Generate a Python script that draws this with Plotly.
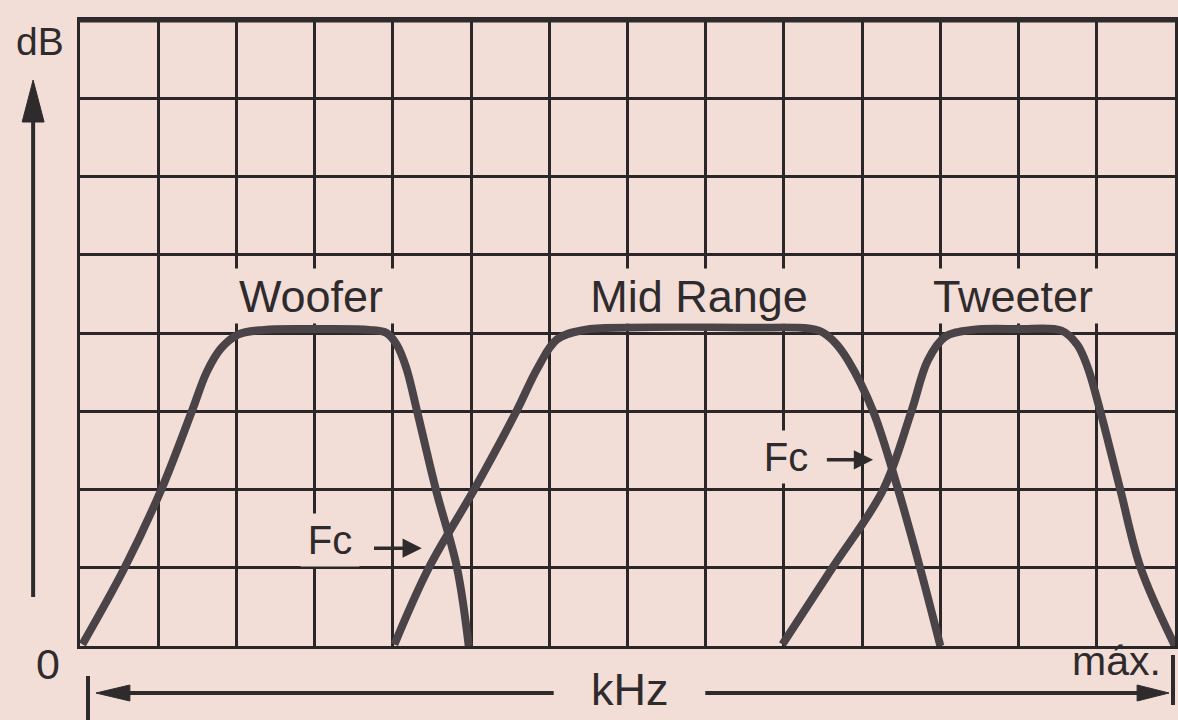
import plotly.graph_objects as go

# Frequency response of a three-way loudspeaker system
# (x in grid divisions along the kHz axis, y in grid divisions of dB)
woofer_khz = [0.03, 0.57, 1.04, 1.43, 1.62, 1.80, 2.02, 2.35, 3.0, 3.7, 3.92, 4.05, 4.17, 4.31, 4.55, 4.82, 4.97]
woofer_db = [0.02, 1.0, 2.0, 3.0, 3.5, 3.8, 3.98, 4.04, 4.05, 4.04, 4.0, 3.85, 3.56, 3.0, 2.0, 1.0, 0.0]

mid_khz = [4.02, 4.46, 5.04, 5.58, 5.85, 6.10, 6.45, 7.0, 8.5, 9.45, 9.65, 9.82, 10.14, 10.46, 10.74, 11.0]
mid_db = [0.02, 1.0, 2.0, 3.0, 3.55, 3.92, 4.04, 4.07, 4.07, 4.03, 3.88, 3.65, 3.0, 2.0, 1.0, 0.0]

tweeter_khz = [8.98, 9.62, 10.27, 10.63, 10.84, 11.06, 11.4, 12.0, 12.55, 12.75, 12.88, 13.04, 13.3, 13.56, 14.0]
tweeter_db = [0.02, 1.0, 2.0, 3.0, 3.65, 3.95, 4.04, 4.05, 4.03, 3.85, 3.57, 3.02, 2.0, 1.0, 0.0]

band_labels = ["Woofer", "Mid Range", "Tweeter"]
crossover_label = "Fc"
y_title = "dB"
y_origin = "0"
x_title = "kHz"
x_max = "máx."

N_COLS, N_ROWS = 14, 8

W, H = 1178, 720
L, R, T, B = 80, 0, 20, 74
PW, PH = W - L - R, H - T - B

PAPER = "#f2ded7"
INK = "#2b2628"
CURVE = "#4a4347"
TEXT = "#2f2b2d"
FONT = "Liberation Sans, Arial, sans-serif"


def px(x):
    return (x - L) / PW


def py(y):
    return (H - B - y) / PH


fig = go.Figure()

for xs, ys in [(woofer_khz, woofer_db), (mid_khz, mid_db), (tweeter_khz, tweeter_db)]:
    fig.add_trace(go.Scatter(
        x=xs, y=ys, mode="lines",
        line=dict(color=CURVE, width=8, shape="spline", smoothing=1.0),
        hoverinfo="skip", showlegend=False,
    ))

axis_common = dict(
    showgrid=True, gridcolor=INK, gridwidth=3, dtick=1, tick0=0,
    showline=True, linecolor=INK, linewidth=3, mirror=True,
    zeroline=False, showticklabels=False, ticks="", fixedrange=True,
)

fig.update_layout(
    width=W, height=H,
    margin=dict(l=L, r=R, t=T, b=B, pad=0),
    paper_bgcolor=PAPER, plot_bgcolor=PAPER,
    xaxis=dict(range=[0, N_COLS], **axis_common),
    yaxis=dict(range=[0, N_ROWS], **axis_common),
    showlegend=False,
)

annotations = []

# band names, boxed so the grid stops behind them
for text, cx, bw in zip(band_labels, [2.95, 7.91, 11.93], [170, 244, 174]):
    annotations.append(dict(
        x=cx, y=4.47, xref="x", yref="y", text=text, showarrow=False,
        xanchor="center", yanchor="middle",
        font=dict(family=FONT, size=45, color=TEXT),
        bgcolor=PAPER, width=bw, height=54, borderpad=0,
    ))

# crossover frequency markers
for (tx, ty), (ax0, hx, hy) in zip([(3.19, 1.35), (9.03, 2.42)],
                                   [(3.74, 4.37, 1.25), (9.53, 10.14, 2.38)]):
    annotations.append(dict(
        x=tx, y=ty, xref="x", yref="y", text=crossover_label, showarrow=False,
        xanchor="center", yanchor="middle",
        font=dict(family=FONT, size=40, color=TEXT),
        bgcolor=PAPER, width=58, height=52, borderpad=0,
    ))
    annotations.append(dict(
        x=hx, y=hy, xref="x", yref="y", ax=ax0, ay=hy, axref="x", ayref="y",
        text="", showarrow=True, arrowhead=2, arrowsize=1.1, arrowwidth=3.5,
        arrowcolor=TEXT,
    ))

# axis captions
for text, cx, cy, size in [(y_title, 40, 41, 39), (y_origin, 48, 664, 43),
                           (x_title, 632, 689, 45), (x_max, 1119, 661, 41)]:
    annotations.append(dict(
        x=px(cx), y=py(cy), xref="paper", yref="paper", text=text, showarrow=False,
        xanchor="center", yanchor="middle",
        font=dict(family=FONT, size=size, color=TEXT),
    ))

shapes = []


def seg(x0, y0, x1, y1, w=4):
    shapes.append(dict(type="line", xref="paper", yref="paper",
                       x0=px(x0), y0=py(y0), x1=px(x1), y1=py(y1),
                       line=dict(color=TEXT, width=w)))


def tri(pts):
    d = "M " + " L ".join(f"{px(a):.5f},{py(b):.5f}" for a, b in pts) + " Z"
    shapes.append(dict(type="path", xref="paper", yref="paper", path=d,
                       fillcolor=TEXT, line=dict(color=TEXT, width=1)))


# heavier top edge of the grid
seg(78, 20, 1178, 20, 5)

# vertical dB arrow
seg(33, 597, 33, 115, 4)
tri([(33, 80), (22, 122), (44, 122)])

# horizontal kHz arrows with end bars
seg(555, 693, 120, 693, 4)
tri([(96, 693), (130, 685), (130, 701)])
seg(707, 693, 1145, 693, 4)
tri([(1172, 693), (1140, 685), (1140, 701)])
seg(88, 676, 88, 720, 4)
seg(1176, 655, 1176, 705, 4)

fig.update_layout(annotations=annotations, shapes=shapes)

fig.write_html("out.html")
